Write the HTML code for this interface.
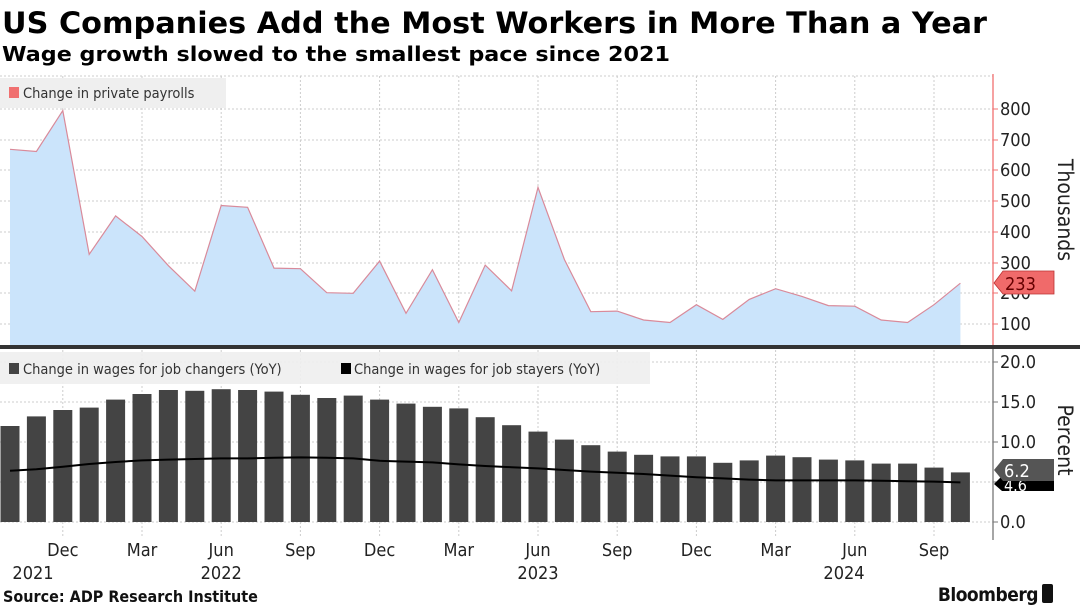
<!DOCTYPE html>
<html><head><meta charset="utf-8"><style>
body{margin:0;background:#fff;}
svg{display:block;font-family:"DejaVu Sans Condensed","Liberation Sans",sans-serif;}
</style></head><body>
<svg width="1080" height="608" viewBox="0 0 1080 608" xmlns="http://www.w3.org/2000/svg">
<rect width="1080" height="608" fill="#fff"/>
<text x="2" y="33" font-family="DejaVu Sans, sans-serif" font-weight="bold" font-size="29" textLength="985" lengthAdjust="spacingAndGlyphs" fill="#000">US Companies Add the Most Workers in More Than a Year</text>
<text x="2" y="61" font-family="DejaVu Sans, sans-serif" font-weight="bold" font-size="20" textLength="668" lengthAdjust="spacingAndGlyphs" fill="#000">Wage growth slowed to the smallest pace since 2021</text>

<!-- top grid -->
<g stroke="#ccc" stroke-dasharray="2,2" stroke-width="1">
<line x1="0" x2="993" y1="76" y2="76"/>
<line x1="0" x2="993" y1="109" y2="109"/><line x1="0" x2="993" y1="140" y2="140"/><line x1="0" x2="993" y1="170" y2="170"/><line x1="0" x2="993" y1="201" y2="201"/><line x1="0" x2="993" y1="232" y2="232"/><line x1="0" x2="993" y1="263" y2="263"/><line x1="0" x2="993" y1="293" y2="293"/><line x1="0" x2="993" y1="324" y2="324"/>
</g>
<g stroke="#ccc" stroke-dasharray="2,2">
<line x1="62.8" x2="62.8" y1="76" y2="345"/><line x1="142" x2="142" y1="76" y2="345"/><line x1="221.2" x2="221.2" y1="76" y2="345"/><line x1="300.4" x2="300.4" y1="76" y2="345"/><line x1="379.6" x2="379.6" y1="76" y2="345"/><line x1="458.8" x2="458.8" y1="76" y2="345"/><line x1="538" x2="538" y1="76" y2="345"/><line x1="617.2" x2="617.2" y1="76" y2="345"/><line x1="696.4" x2="696.4" y1="76" y2="345"/><line x1="775.6" x2="775.6" y1="76" y2="345"/><line x1="854.8" x2="854.8" y1="76" y2="345"/><line x1="934" x2="934" y1="76" y2="345"/>
</g>
<polygon fill="#cbe4fb" stroke="none" points="10,346 10,149.3 36.4,151.5 62.8,110.6 89.2,254.3 115.6,215.9 142,236.5 168.4,265.7 194.8,291.2 221.2,205.5 247.6,207.3 274,268.1 300.4,268.7 326.8,292.7 353.2,293.3 379.6,261.1 406,313.3 432.4,269.7 458.8,322.5 485.2,265.1 511.6,290.8 538,187.4 564.4,259.5 590.8,311.7 617.2,311.1 643.6,320 670,322.5 696.4,304.7 722.8,319.4 749.2,299.4 775.6,288.7 802,296.4 828.4,305.6 854.8,306.2 881.2,320 907.6,322.5 934,304.7 960.4,283.2 960.4,346"/>
<polyline fill="none" stroke="#d98a9a" stroke-width="1.2" points="10,149.3 36.4,151.5 62.8,110.6 89.2,254.3 115.6,215.9 142,236.5 168.4,265.7 194.8,291.2 221.2,205.5 247.6,207.3 274,268.1 300.4,268.7 326.8,292.7 353.2,293.3 379.6,261.1 406,313.3 432.4,269.7 458.8,322.5 485.2,265.1 511.6,290.8 538,187.4 564.4,259.5 590.8,311.7 617.2,311.1 643.6,320 670,322.5 696.4,304.7 722.8,319.4 749.2,299.4 775.6,288.7 802,296.4 828.4,305.6 854.8,306.2 881.2,320 907.6,322.5 934,304.7 960.4,283.2"/>
<rect x="0" y="78" width="226" height="30" fill="#efefef"/>
<rect x="9" y="87" width="10" height="11" fill="#f07070"/>
<text x="23" y="98" font-size="14.5" fill="#333">Change in private payrolls</text>

<!-- top axis -->
<line x1="993" x2="993" y1="74" y2="346" stroke="#f07070" stroke-width="1.3"/>
<g stroke="#f07070"><line x1="993" x2="998" y1="109" y2="109"/><line x1="993" x2="998" y1="140" y2="140"/><line x1="993" x2="998" y1="170" y2="170"/><line x1="993" x2="998" y1="201" y2="201"/><line x1="993" x2="998" y1="232" y2="232"/><line x1="993" x2="998" y1="263" y2="263"/><line x1="993" x2="998" y1="293" y2="293"/><line x1="993" x2="998" y1="324" y2="324"/></g>
<g font-size="18" fill="#222">
<text x="1000" y="115">800</text><text x="1000" y="146">700</text><text x="1000" y="176">600</text><text x="1000" y="207">500</text><text x="1000" y="238">400</text><text x="1000" y="269">300</text><text x="1000" y="299">200</text><text x="1000" y="330">100</text>
</g>
<text transform="translate(1058,210) rotate(90)" text-anchor="middle" font-size="21" fill="#222">Thousands</text>
<polygon points="994,283 1003,271 1054,271 1054,294 1003,294" fill="#f06a6a" stroke="#b33" stroke-width="0.8"/>
<text x="1005" y="290" font-size="18" fill="#600">233</text>

<rect x="0" y="345" width="1080" height="4" fill="#333"/>

<!-- bottom grid -->
<g stroke="#ccc" stroke-dasharray="2,2">
<line x1="0" x2="993" y1="362" y2="362"/><line x1="0" x2="993" y1="402" y2="402"/><line x1="0" x2="993" y1="442" y2="442"/><line x1="0" x2="993" y1="482" y2="482"/><line x1="0" x2="993" y1="522" y2="522"/>
<line x1="62.8" x2="62.8" y1="350" y2="538"/><line x1="142" x2="142" y1="350" y2="538"/><line x1="221.2" x2="221.2" y1="350" y2="538"/><line x1="300.4" x2="300.4" y1="350" y2="538"/><line x1="379.6" x2="379.6" y1="350" y2="538"/><line x1="458.8" x2="458.8" y1="350" y2="538"/><line x1="538" x2="538" y1="350" y2="538"/><line x1="617.2" x2="617.2" y1="350" y2="538"/><line x1="696.4" x2="696.4" y1="350" y2="538"/><line x1="775.6" x2="775.6" y1="350" y2="538"/><line x1="854.8" x2="854.8" y1="350" y2="538"/><line x1="934" x2="934" y1="350" y2="538"/>
</g>
<g fill="#444">
<rect x="0.5" y="426" width="19" height="96"/>
<rect x="26.9" y="416.4" width="19" height="105.6"/>
<rect x="53.3" y="410" width="19" height="112"/>
<rect x="79.7" y="407.6" width="19" height="114.4"/>
<rect x="106.1" y="399.6" width="19" height="122.4"/>
<rect x="132.5" y="394" width="19" height="128"/>
<rect x="158.9" y="390" width="19" height="132"/>
<rect x="185.3" y="390.8" width="19" height="131.2"/>
<rect x="211.7" y="389.2" width="19" height="132.8"/>
<rect x="238.1" y="390" width="19" height="132"/>
<rect x="264.5" y="391.6" width="19" height="130.4"/>
<rect x="290.9" y="394.8" width="19" height="127.2"/>
<rect x="317.3" y="398" width="19" height="124"/>
<rect x="343.7" y="395.6" width="19" height="126.4"/>
<rect x="370.1" y="399.6" width="19" height="122.4"/>
<rect x="396.5" y="403.6" width="19" height="118.4"/>
<rect x="422.9" y="406.8" width="19" height="115.2"/>
<rect x="449.3" y="408.4" width="19" height="113.6"/>
<rect x="475.7" y="417.2" width="19" height="104.8"/>
<rect x="502.1" y="425.2" width="19" height="96.8"/>
<rect x="528.5" y="431.6" width="19" height="90.4"/>
<rect x="554.9" y="439.6" width="19" height="82.4"/>
<rect x="581.3" y="445.2" width="19" height="76.8"/>
<rect x="607.7" y="451.6" width="19" height="70.4"/>
<rect x="634.1" y="454.8" width="19" height="67.2"/>
<rect x="660.5" y="456.4" width="19" height="65.6"/>
<rect x="686.9" y="456.4" width="19" height="65.6"/>
<rect x="713.3" y="462.8" width="19" height="59.2"/>
<rect x="739.7" y="460.4" width="19" height="61.6"/>
<rect x="766.1" y="455.6" width="19" height="66.4"/>
<rect x="792.5" y="457.2" width="19" height="64.8"/>
<rect x="818.9" y="459.6" width="19" height="62.4"/>
<rect x="845.3" y="460.4" width="19" height="61.6"/>
<rect x="871.7" y="463.6" width="19" height="58.4"/>
<rect x="898.1" y="463.6" width="19" height="58.4"/>
<rect x="924.5" y="467.6" width="19" height="54.4"/>
<rect x="950.9" y="472.4" width="19" height="49.6"/>
</g>
<polyline fill="none" stroke="#000" stroke-width="2" points="10,470.8 36.4,469.2 62.8,466.8 89.2,464 115.6,462 142,460.4 168.4,459.6 194.8,459 221.2,458.4 247.6,458.4 274,457.8 300.4,457.4 326.8,457.8 353.2,458.4 379.6,460.8 406,461.6 432.4,462.4 458.8,464.4 485.2,466 511.6,467.2 538,468.4 564.4,470 590.8,471.6 617.2,472.8 643.6,474 670,475.6 696.4,477.2 722.8,478.4 749.2,479.6 775.6,480.4 802,480.4 828.4,480.4 854.8,480.4 881.2,480.8 907.6,481.2 934,481.6 960.4,482.4"/>
<rect x="0" y="352" width="650" height="32" fill="#efefef" opacity="0.92"/>
<rect x="9" y="363" width="10" height="11" fill="#444"/>
<text x="23" y="374" font-size="14.5" fill="#333">Change in wages for job changers (YoY)</text>
<rect x="341" y="363" width="10" height="11" fill="#000"/>
<text x="354" y="374" font-size="14.5" fill="#333">Change in wages for job stayers (YoY)</text>

<line x1="993" x2="993" y1="349" y2="540" stroke="#777" stroke-width="1.3"/>
<g stroke="#777"><line x1="993" x2="998" y1="362" y2="362"/><line x1="993" x2="998" y1="402" y2="402"/><line x1="993" x2="998" y1="442" y2="442"/><line x1="993" x2="998" y1="482" y2="482"/><line x1="993" x2="998" y1="522" y2="522"/></g>
<g font-size="18" fill="#222">
<text x="1000" y="368">20.0</text><text x="1000" y="408">15.0</text><text x="1000" y="448">10.0</text><text x="1000" y="528">0.0</text>
</g>
<text transform="translate(1058,440) rotate(90)" text-anchor="middle" font-size="21" fill="#222">Percent</text>
<polygon points="994,484 1002,476 1054,476 1054,491 1002,491" fill="#000"/>
<text x="1004" y="491" font-size="16" fill="#fff">4.6</text>
<polygon points="994,470 1003,459 1054,459 1054,481 1003,481" fill="#555"/>
<text x="1004" y="477" font-size="18" fill="#fff">6.2</text>

<g font-size="18" fill="#222" text-anchor="middle">
<text x="62.8" y="556">Dec</text><text x="142" y="556">Mar</text><text x="221.2" y="556">Jun</text><text x="300.4" y="556">Sep</text><text x="379.6" y="556">Dec</text><text x="458.8" y="556">Mar</text><text x="538" y="556">Jun</text><text x="617.2" y="556">Sep</text><text x="696.4" y="556">Dec</text><text x="775.6" y="556">Mar</text><text x="854.8" y="556">Jun</text><text x="934" y="556">Sep</text>
<text x="33" y="579">2021</text><text x="221.2" y="579">2022</text><text x="538" y="579">2023</text><text x="844" y="579">2024</text>
</g>
<text x="3" y="602" font-size="16" font-weight="bold" fill="#111">Source: ADP Research Institute</text>
<text x="1038" y="601" font-size="19" font-weight="bold" fill="#111" text-anchor="end" letter-spacing="-0.5">Bloomberg</text>
<rect x="1042" y="584" width="11" height="19" rx="2" fill="#111"/>
</svg>
</body></html>
